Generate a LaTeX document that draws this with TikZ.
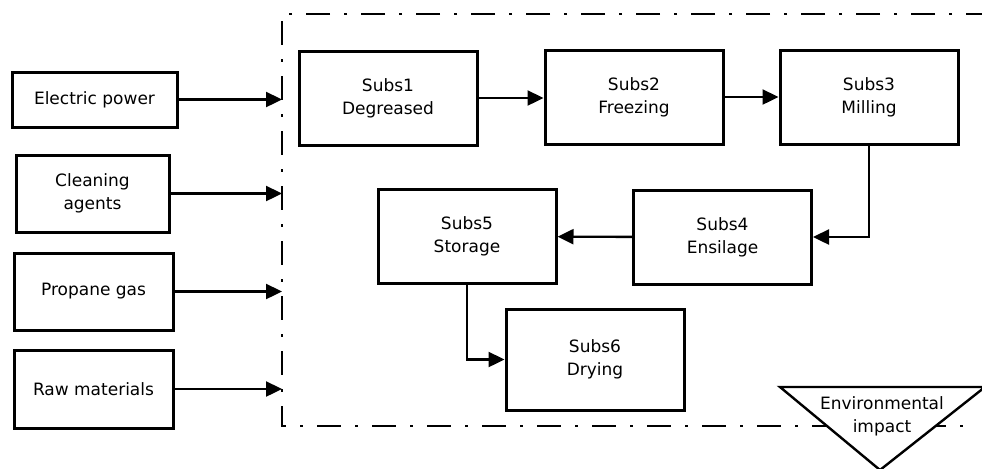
\documentclass[tikz,border=0pt]{standalone}
\usepackage{fontspec}
\setmainfont{DejaVu Sans}
\usetikzlibrary{arrows.meta}

\begin{document}
\begin{tikzpicture}[x=0.5pt,y=-0.5pt,
    inbox/.style={draw,line width=1.5pt,align=center,inner sep=0pt,font=\fontsize{8.5}{11.5}\selectfont},
    stage/.style={inbox,minimum width=89pt,minimum height=47pt},
    flow/.style={line width=1.2pt,-{Triangle[length=8pt,width=7.5pt]}},
    boundary/.style={line width=1.3pt,dash pattern=on 12pt off 7pt on 1.5pt off 7pt}]
  \useasboundingbox (0,0) rectangle (982,468);
  \clip (0,0) rectangle (982,468);
  % system boundary (open on the right)
  \coordinate (fw) at (282,14);
  \coordinate (fs) at (282,426);
  \coordinate (fne) at (990,14);
  \coordinate (fse) at (972,426);
  \draw[boundary] (fne) -- (fw) -- (fs) -- (fse);

  % inputs
  \node[inbox,minimum width=82.5pt,minimum height=27.5pt] (elec) at (94.5,99.5) {Electric power};
  \node[inbox,minimum width=76.5pt,minimum height=38.5pt] (clean) at (92.5,193.5) {Cleaning\\agents};
  \node[inbox,minimum width=79.5pt,minimum height=38.5pt] (gas) at (93.5,291.5) {Propane gas};
  \node[inbox,minimum width=79.5pt,minimum height=39pt] (raw) at (93.5,389) {Raw materials};
  \foreach \n in {elec,clean,gas,raw}
    \draw[flow] (\n) -- (\n -| fw);

  % process stages
  \node[stage] (s1) at (388,98) {Subs1\\Degreased};
  \node[stage] (s2) at (634,97) {Subs2\\Freezing};
  \node[stage] (s3) at (869,97) {Subs3\\Milling};
  \node[stage] (s4) at (722.5,237) {Subs4\\Ensilage};
  \node[stage] (s5) at (467,236.5) {Subs5\\Storage};
  \node[stage,minimum height=50.5pt] (s6) at (595,359.5) {Subs6\\Drying};
  \draw[flow] (s1.east) -- (s1.east -| s2.west);
  \draw[flow] (s2) -- (s3);
  \draw[flow] (s3.south) |- (s4.east);
  \draw[flow] (s4) -- (s5);
  \draw[flow] (s5.south) |- (s6.west);

  % output
  \coordinate (tl) at (780,387);
  \coordinate (tr) at (985,387);
  \coordinate (tb) at (880,470);
  \draw[line width=1.2pt,fill=white] (tl) -- (tr) -- (tb) -- cycle;
  \node[align=center,inner sep=0pt,font=\fontsize{8.5}{11.5}\selectfont] (env) at (882,416) {Environmental\\impact};
\end{tikzpicture}
\end{document}
